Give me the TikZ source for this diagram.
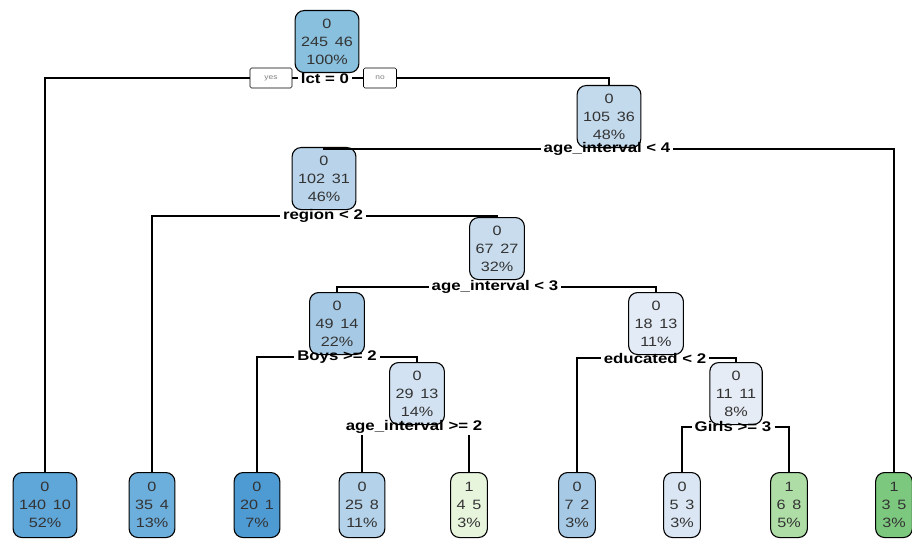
\documentclass[tikz,border=0pt]{standalone}
\usepackage{fontspec}
\setmainfont{Liberation Sans}[FakeStretch=1.2]
\begin{document}
\begin{tikzpicture}[x=1pt,y=-1pt]
% fills: blue for class 0, green for class 1, deeper with purity
\definecolor{fRoot}{HTML}{89C0DE}
\definecolor{fA}{HTML}{C3D9EC}
\definecolor{fB}{HTML}{B8D3EA}
\definecolor{fC}{HTML}{C8DCEE}
\definecolor{fD}{HTML}{A6CAE5}
\definecolor{fE}{HTML}{E3EBF6}
\definecolor{fF}{HTML}{D2E2F2}
\definecolor{fG}{HTML}{E6ECF5}
\definecolor{lA}{HTML}{5FA6D9}
\definecolor{lB}{HTML}{6DAFDC}
\definecolor{lC}{HTML}{4E9BD4}
\definecolor{lD}{HTML}{B4D2E9}
\definecolor{lE}{HTML}{E8F5DD}
\definecolor{lF}{HTML}{A6CAE5}
\definecolor{lG}{HTML}{DAE6F3}
\definecolor{lH}{HTML}{AEDDA6}
\definecolor{lI}{HTML}{7DC87F}
\tikzset{
  box/.style={draw=black, line width=1.1pt, rounded corners=9pt, align=center,
    text=black!80, font=\fontsize{13.5}{18}\selectfont,
    inner xsep=6pt, inner ysep=3pt, minimum height=62pt, anchor=north},
  leafbox/.style={box, minimum height=65pt},
  split/.style={font=\fontsize{14}{16}\selectfont\bfseries, text=black,
    inner xsep=3pt, inner ysep=1pt},
  yn/.style={draw=black, line width=0.6pt, rounded corners=1.5pt, fill=white,
    font=\fontsize{7}{8}\selectfont, text=black!50, minimum height=20pt},
  edge/.style={line width=1.1pt, black}
}
\newcommand{\gp}{\hspace{0.5em}}
\useasboundingbox (0,0) rectangle (912,540);
\fill[white] (0,0) rectangle (912,540);

% internal nodes
\node[box, fill=fRoot] (n1) at (327,10)  {0\\245\gp46\\100\%};
\node[box, fill=fA]    (n2) at (609,85)  {0\\105\gp36\\48\%};
\node[box, fill=fB]    (n3) at (324,147) {0\\102\gp31\\46\%};
\node[box, fill=fC]    (n4) at (497,217) {0\\67\gp27\\32\%};
\node[box, fill=fD]    (n5) at (337,292) {0\\49\gp14\\22\%};
\node[box, fill=fE]    (n6) at (656,292) {0\\18\gp13\\11\%};
\node[box, fill=fF]    (n7) at (417,362) {0\\29\gp13\\14\%};
\node[box, fill=fG]    (n8) at (736,362) {0\\11\gp11\\8\%};

% leaves
\node[leafbox, fill=lA] (t1) at (45,472)  {0\\140\gp10\\52\%};
\node[leafbox, fill=lB] (t2) at (152,472) {0\\35\gp4\\13\%};
\node[leafbox, fill=lC] (t3) at (257,472) {0\\20\gp1\\7\%};
\node[leafbox, fill=lD] (t4) at (362,472) {0\\25\gp8\\11\%};
\node[leafbox, fill=lE] (t5) at (469,472) {1\\4\gp5\\3\%};
\node[leafbox, fill=lF] (t6) at (577,472) {0\\7\gp2\\3\%};
\node[leafbox, fill=lG] (t7) at (682,472) {0\\5\gp3\\3\%};
\node[leafbox, fill=lH] (t8) at (789,472) {1\\6\gp8\\5\%};
\node[leafbox, fill=lI] (t9) at (894,472) {1\\3\gp5\\3\%};

% split labels
\node[split] (s1) at (325,78)  {lct = 0};
\node[yn, minimum width=42pt] (yes) at (271,78) {yes};
\node[yn, minimum width=33pt] (no)  at (380,78) {no};
\node[split] (s2) at (607,149) {age\_interval < 4};
\node[split] (s3) at (323,216) {region < 2};
\node[split] (s4) at (495,287) {age\_interval < 3};
\node[split] (s5) at (337,357) {Boys >= 2};
\node[split] (s6) at (655,358) {educated < 2};
\node[split] (s7) at (414,427) {age\_interval >= 2};
\node[split] (s8) at (733,427) {Girls >= 3};

% branches
\draw[edge] (yes.west) -| (t1.north);
\draw[edge] (yes.east) -- (s1.west);
\draw[edge] (s1.east) -- (no.west);
\draw[edge] (no.east) -| (n2.north);
\draw[edge] (s2.west) -| (n3.north);
\draw[edge] (s2.east) -| (t9.north);
\draw[edge] (s3.west) -| (t2.north);
\draw[edge] (s3.east) -| (n4.north);
\draw[edge] (s4.west) -| (n5.north);
\draw[edge] (s4.east) -| (n6.north);
\draw[edge] (s5.west) -| (t3.north);
\draw[edge] (s5.east) -| (n7.north);
\draw[edge] (s6.west) -| (t6.north);
\draw[edge] (s6.east) -| (n8.north);
% children sit under this wide label: drop straight from beneath it
\draw[edge] (t4.north |- s7.south) -- (t4.north);
\draw[edge] (t5.north |- s7.south) -- (t5.north);
\draw[edge] (s8.west) -| (t7.north);
\draw[edge] (s8.east) -| (t8.north);
\end{tikzpicture}
\end{document}
